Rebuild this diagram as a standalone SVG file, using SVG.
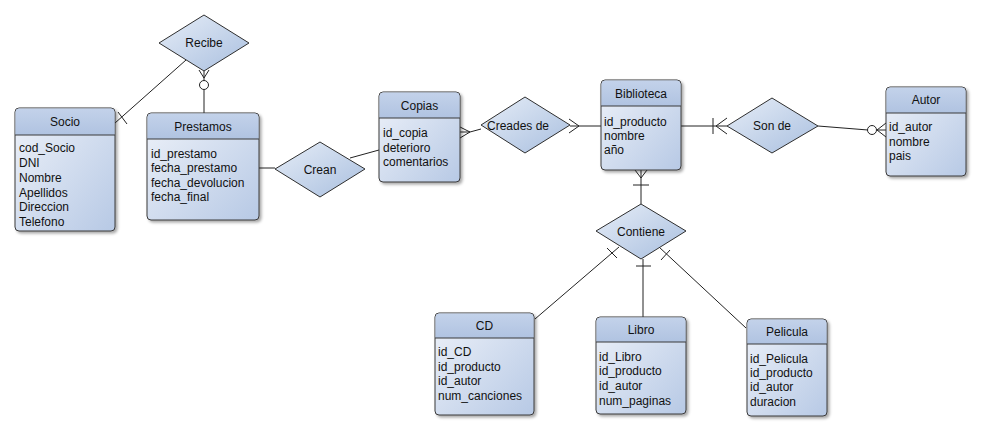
<svg xmlns="http://www.w3.org/2000/svg" width="981" height="431" viewBox="0 0 981 431">
<defs>
<linearGradient id="gBody" x1="0" y1="0" x2="1" y2="1">
<stop offset="0" stop-color="#eef2f9"/>
<stop offset="1" stop-color="#b7c9e5"/>
</linearGradient>
<linearGradient id="gHead" x1="0" y1="0" x2="0" y2="1">
<stop offset="0" stop-color="#c3d2ea"/>
<stop offset="1" stop-color="#b0c3e1"/>
</linearGradient>
<linearGradient id="gDia" x1="0" y1="0" x2="1" y2="1">
<stop offset="0" stop-color="#e6edf7"/>
<stop offset="1" stop-color="#a9bfdf"/>
</linearGradient>
<filter id="sh" x="-10%" y="-10%" width="130%" height="130%">
<feDropShadow dx="2" dy="2" stdDeviation="1.5" flood-color="#000" flood-opacity="0.35"/>
</filter>
</defs>
<style>
.box{fill:url(#gBody);stroke:#3a3a3a;stroke-width:1;filter:url(#sh)}
.head{fill:url(#gHead)}
.sep{stroke:#3a3a3a;stroke-width:1}
.dia{fill:url(#gDia);stroke:#2f2f2f;stroke-width:1}
.t{font-family:"Liberation Sans",Arial,sans-serif;font-size:12px;fill:#111}
.c{text-anchor:middle}
.ln{fill:none;stroke:#222;stroke-width:1}
.circ{fill:#fff;stroke:#222;stroke-width:1}
</style>
<rect width="981" height="431" fill="#fff"/>

<g id="connectors">
<!-- Recibe - Socio -->
<line class="ln" x1="186" y1="60" x2="115" y2="123"/>
<line class="ln" x1="118" y1="112" x2="127" y2="124"/>
<!-- Recibe - Prestamos -->
<line class="ln" x1="204" y1="70" x2="204" y2="113" />
<polyline class="ln" points="199,70 204,78 209,70"/>
<circle class="circ" cx="204" cy="85" r="4.5"/>
<!-- Prestamos - Crean -->
<line class="ln" x1="259" y1="168" x2="275" y2="168"/>
<!-- Crean - Copias -->
<line class="ln" x1="350" y1="158" x2="379" y2="150"/>
<!-- Copias - Creades de -->
<polyline class="ln" points="460,127 470,132 460,138"/>
<line class="ln" x1="460" y1="132" x2="470" y2="132"/>
<line class="ln" x1="470" y1="132" x2="481" y2="129"/>
<!-- Creades de - Biblioteca -->
<line class="ln" x1="570" y1="126" x2="601" y2="126"/>
<polyline class="ln" points="569,119 579,126 569,133"/>
<!-- Biblioteca - Son de -->
<line class="ln" x1="681" y1="126" x2="727" y2="126"/>
<line class="ln" x1="713" y1="118" x2="713" y2="134"/>
<polyline class="ln" points="727,118 716,126 727,134"/>
<!-- Son de - Autor -->
<line class="ln" x1="818" y1="126" x2="868" y2="130"/>
<line class="ln" x1="877" y1="130" x2="886" y2="130"/>
<polyline class="ln" points="886,123 877,130 886,137"/>
<circle class="circ" cx="872" cy="130" r="4.5"/>
<!-- Biblioteca - Contiene -->
<line class="ln" x1="641" y1="170" x2="641" y2="204"/>
<polyline class="ln" points="635,170 641,178 647,170"/>
<line class="ln" x1="633" y1="185" x2="649" y2="185"/>
<!-- Contiene - CD -->
<line class="ln" x1="619" y1="247" x2="535" y2="319"/>
<line class="ln" x1="607" y1="248" x2="617" y2="258"/>
<!-- Contiene - Libro -->
<line class="ln" x1="643" y1="259" x2="643" y2="317"/>
<line class="ln" x1="636" y1="266" x2="651" y2="266"/>
<!-- Contiene - Pelicula -->
<line class="ln" x1="659" y1="247" x2="746" y2="328"/>
<line class="ln" x1="661" y1="260" x2="670" y2="250"/>
</g>

<g id="Recibe">
<polygon class="dia" points="159,43 204,15 249,43 204,71"/>
<text class="t c" x="204" y="47">Recibe</text>
</g>
<g id="Crean">
<polygon class="dia" points="275,169 320,142 365,169 320,197"/>
<text class="t c" x="320" y="174">Crean</text>
</g>
<g id="CreadesDe">
<polygon class="dia" points="481,125 525,97 570,125 525,153"/>
<text class="t c" x="518" y="130">Creades de</text>
</g>
<g id="SonDe">
<polygon class="dia" points="727,126 772,98 818,126 772,153"/>
<text class="t c" x="772" y="130">Son de</text>
</g>
<g id="Contiene">
<polygon class="dia" points="596,231 641,204 686,231 641,259"/>
<text class="t c" x="641" y="236">Contiene</text>
</g>

<g id="Socio">
<rect class="box" x="15" y="108" width="100" height="123" rx="4"/>
<path class="head" d="M19.5,108.5 h91 a4,4 0 0 1 4,4 v22.5 h-99 v-22.5 a4,4 0 0 1 4,-4z"/>
<line class="sep" x1="15" y1="135" x2="115" y2="135"/>
<text class="t c" x="65" y="126">Socio</text>
<text class="t" x="19" y="152">cod_Socio</text>
<text class="t" x="19" y="167">DNI</text>
<text class="t" x="19" y="182">Nombre</text>
<text class="t" x="19" y="197">Apellidos</text>
<text class="t" x="19" y="211">Direccion</text>
<text class="t" x="19" y="226">Telefono</text>
</g>

<g id="Prestamos">
<rect class="box" x="147" y="113" width="112" height="107" rx="4"/>
<path class="head" d="M151.5,113.5 h103 a4,4 0 0 1 4,4 v21.5 h-111 v-21.5 a4,4 0 0 1 4,-4z"/>
<line class="sep" x1="147" y1="139" x2="259" y2="139"/>
<text class="t c" x="203" y="131">Prestamos</text>
<text class="t" x="151" y="158">id_prestamo</text>
<text class="t" x="151" y="172">fecha_prestamo</text>
<text class="t" x="151" y="187">fecha_devolucion</text>
<text class="t" x="151" y="201">fecha_final</text>
</g>

<g id="Copias">
<rect class="box" x="379" y="92" width="81" height="90" rx="4"/>
<path class="head" d="M383.5,92.5 h72 a4,4 0 0 1 4,4 v21.5 h-80 v-21.5 a4,4 0 0 1 4,-4z"/>
<line class="sep" x1="379" y1="118" x2="460" y2="118"/>
<text class="t c" x="419.5" y="110">Copias</text>
<text class="t" x="383" y="137">id_copia</text>
<text class="t" x="383" y="152">deterioro</text>
<text class="t" x="383" y="166">comentarios</text>
</g>

<g id="Biblioteca">
<rect class="box" x="601" y="80" width="80" height="90" rx="4"/>
<path class="head" d="M605.5,80.5 h71 a4,4 0 0 1 4,4 v21.5 h-79 v-21.5 a4,4 0 0 1 4,-4z"/>
<line class="sep" x1="601" y1="106" x2="681" y2="106"/>
<text class="t c" x="641" y="98">Biblioteca</text>
<text class="t" x="604" y="126">id_producto</text>
<text class="t" x="604" y="140">nombre</text>
<text class="t" x="604" y="154">año</text>
</g>

<g id="Autor">
<rect class="box" x="886" y="87" width="80" height="89" rx="4"/>
<path class="head" d="M890.5,87.5 h71 a4,4 0 0 1 4,4 v21.5 h-79 v-21.5 a4,4 0 0 1 4,-4z"/>
<line class="sep" x1="886" y1="113" x2="966" y2="113"/>
<text class="t c" x="926" y="104">Autor</text>
<text class="t" x="889" y="131">id_autor</text>
<text class="t" x="889" y="146">nombre</text>
<text class="t" x="889" y="160">pais</text>
</g>

<g id="CD">
<rect class="box" x="435" y="313" width="99" height="102" rx="4"/>
<path class="head" d="M439.5,313.5 h90 a4,4 0 0 1 4,4 v20.5 h-98 v-20.5 a4,4 0 0 1 4,-4z"/>
<line class="sep" x1="435" y1="338" x2="534" y2="338"/>
<text class="t c" x="484.5" y="330">CD</text>
<text class="t" x="438" y="356">id_CD</text>
<text class="t" x="438" y="371">id_producto</text>
<text class="t" x="438" y="385">id_autor</text>
<text class="t" x="438" y="400">num_canciones</text>
</g>

<g id="Libro">
<rect class="box" x="596" y="317" width="90" height="97" rx="4"/>
<path class="head" d="M600.5,317.5 h81 a4,4 0 0 1 4,4 v20.5 h-89 v-20.5 a4,4 0 0 1 4,-4z"/>
<line class="sep" x1="596" y1="342" x2="686" y2="342"/>
<text class="t c" x="641" y="334">Libro</text>
<text class="t" x="599" y="361">id_Libro</text>
<text class="t" x="599" y="375">id_producto</text>
<text class="t" x="599" y="390">id_autor</text>
<text class="t" x="599" y="405">num_paginas</text>
</g>

<g id="Pelicula">
<rect class="box" x="747" y="319" width="80" height="97" rx="4"/>
<path class="head" d="M751.5,319.5 h71 a4,4 0 0 1 4,4 v20.5 h-79 v-20.5 a4,4 0 0 1 4,-4z"/>
<line class="sep" x1="747" y1="344" x2="827" y2="344"/>
<text class="t c" x="787" y="336">Pelicula</text>
<text class="t" x="750" y="363">id_Pelicula</text>
<text class="t" x="750" y="377">id_producto</text>
<text class="t" x="750" y="391">id_autor</text>
<text class="t" x="750" y="406">duracion</text>
</g>
</svg>
